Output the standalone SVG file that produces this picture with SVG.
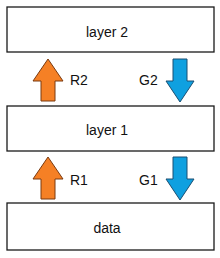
<svg xmlns="http://www.w3.org/2000/svg" width="220" height="258" viewBox="0 0 220 258">
<style>
.box{fill:#ffffff;stroke:#1a1a1a;stroke-width:1.3}
.t{font-family:"Liberation Sans","Open Sans",Arial,sans-serif;font-size:14px;fill:#111111}
.up{fill:#F58025;stroke:#7A3A10;stroke-width:1}
.dn{fill:#0FA0E0;stroke:#1B4F72;stroke-width:1}
</style>
<g id="layer2"><rect class="box" x="7" y="7" width="207" height="45"/><text class="t" x="107" y="36.5" text-anchor="middle">layer 2</text></g>
<g id="layer1"><rect class="box" x="7" y="106" width="207" height="45"/><text class="t" x="107" y="135" text-anchor="middle">layer 1</text></g>
<g id="data"><rect class="box" x="7" y="203" width="207" height="47"/><text class="t" x="107" y="233" text-anchor="middle">data</text></g>
<g id="connectors">
<polygon class="up" points="48,59 63,81 55,81 55,101 41,101 41,81 33,81"/>
<polygon class="dn" points="173,59 187,59 187,81 194,81 180,102 166,81 173,81"/>
<polygon class="up" points="48,157 63,179 55,179 55,199 41,199 41,179 33,179"/>
<polygon class="dn" points="173,157 187,157 187,179 194,179 180,200 166,179 173,179"/>
<text class="t" x="70" y="85">R2</text>
<text class="t" x="139" y="85">G2</text>
<text class="t" x="70" y="185">R1</text>
<text class="t" x="139" y="185">G1</text>
</g>
</svg>
